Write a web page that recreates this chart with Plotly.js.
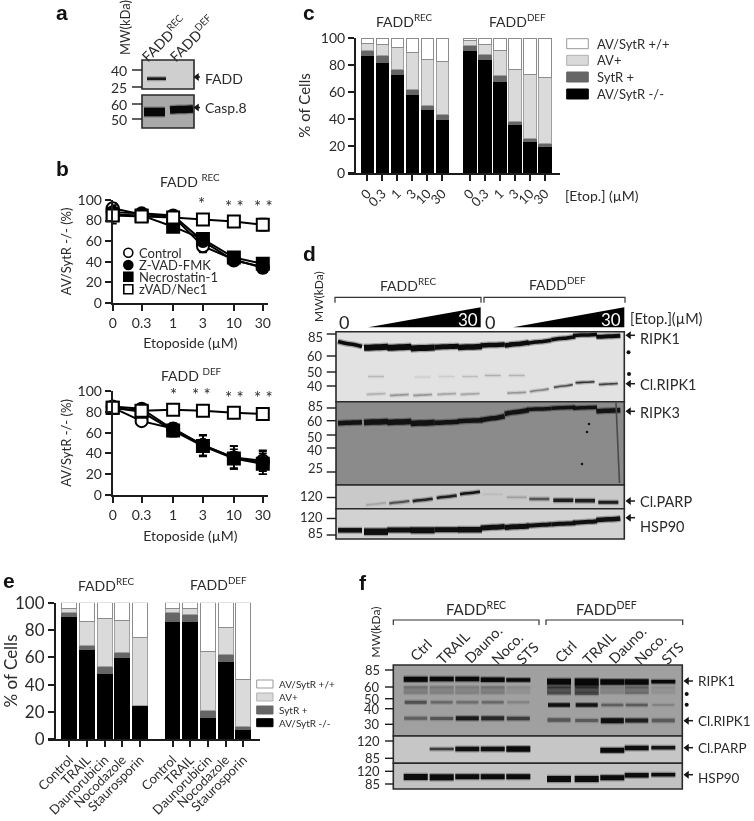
<!DOCTYPE html>
<html><head><meta charset="utf-8">
<script src="https://cdn.plot.ly/plotly-3.0.1.min.js"></script>
<style>html,body{margin:0;padding:0;background:#fff}#g{width:754px;height:821px;filter:blur(0.45px)}</style>
</head><body><div id="g"></div>
<script>
// ---------- panel b data ----------
const doses=['0','0.3','1','3','10','30'];
const dosePos=[0,1,2.09,3.12,4.19,5.19];
const bSeries=['Control','Z-VAD-FMK','Necrostatin-1','zVAD/Nec1'];
const recControl=[92,86,84,55,42,34], recControlErr=[5,3,2,6,3,5];
const recZvad=[88,87,85,60,41,35], recZvadErr=[3,3,2,3,3,4];
const recNec=[86,85,74,62,44,38], recNecErr=[9,3,3,4,3,4];
const recBoth=[85,84,83,81,79,76], recBothErr=[4,3,3,3,3,6];
const defControl=[84,71,64,48,36,33], defControlErr=[3,4,5,10,11,10];
const defZvad=[85,83,63,48,36,31], defZvadErr=[2,3,5,10,11,11];
const defNec=[84,80,62,47,35,30], defNecErr=[3,3,6,10,9,10];
const defBoth=[84,81,82,81,79,78], defBothErr=[3,3,2,3,2,2];
// ---------- panel c data ----------
const stackNames=['AV/SytR -/-','SytR +','AV+','AV/SytR +/+'];
const cLabels=['0','0.3','1','3','10','30','0','0.3','1','3','10','30'];
const cPos=[0,1,2,3,4,5,6.84,7.84,8.84,9.84,10.84,11.84];
const cNeg=[87,82,73,58,47,40, 91,84,68,36,23,20];
const cSyt=[4,5,4,4,3,3, 3.5,4,4.5,2.5,2.5,2];
const cAv=[5,8,16,27,34,39.5, 3.5,7.5,18.5,38.5,47.5,49];
const cBoth=[4,5,7,11,16,17.5, 2,4.5,9,23,27,29];
// ---------- panel e data ----------
const eLabels=['Control','TRAIL','Daunorubicin','Nocodazole','Staurosporin','Control','TRAIL','Daunorubicin','Nocodazole','Staurosporin'];
const ePos=[0,1,2,3,4,5.83,6.83,7.83,8.83,9.83];
const eNeg=[90,66,48,60,24.5, 86,86,16,57,7];
const eSyt=[3,3,5,3.5,0.5, 7,5,5,5,2.5];
const eAv=[3,17,35.5,23.5,49.5, 3,5,43,20,34];
const eBoth=[4,14,11.5,13,25.5, 4,4,36,18,56.5];
// ---------- blots: lane centres, migration, band weight, grey ----------
const dLanes=[350,376,399.3,422.7,446.7,470,492.7,516.7,539.3,563.3,585,608.3];
const dRipk1Y=[344,347.3,347.3,348,346.7,347,345,344,341.7,338.3,335,336.3];
const dRipk1W=[3.5,6,6,6,5,5.5,4.5,4.5,3.5,3.5,3.5,4];
const dClRipk1Y=[null,394,395,395,394,394,null,392.7,390.3,386,382.3,384];
const dClRipk1G=[0,178,150,150,165,165,0,150,130,80,50,65];
const dFaintY=[null,376.5,null,377,376.5,376.5,375.5,375.5,null,null,null,null];
const dFaintG=[0,185,0,205,205,190,175,180,0,0,0,0];
const dRipk3Y=[422.7,422,422,423,422.3,420.7,418.3,412,409,407.7,407.7,410.7];
const dRipk3W=[4.5,5.5,5.5,5.5,4.5,4.5,4.5,4.5,3.5,3.5,3.5,4.5];
const dParpY=[null,504,502.3,500,496.7,493,494.3,497.3,499,500.3,500.7,502.3];
const dParpG=[0,165,80,35,30,20,185,160,85,30,30,30];
const dParpW=[0,1.5,2,2.5,2.5,2.5,1,1.5,2.5,3.5,3.5,3];
const dHspY=[530.3,531.7,530,530.3,529.7,529.7,527.3,526.7,525,523.7,522,519.3];
const dHspW=[4.5,6.5,5,6,5,5.5,5,5,4,4,4,4.5];
const fLanes=[415.7,441.7,467.3,492.7,518.3,559,586.7,612.3,636.7,663.3];
const fRipk1Y=[679.3,679,679,679.7,680,681.7,682,682,682,681.7];
const fRipk1W=[5,4.5,4.5,4.5,3.5,6,7,5.5,5.5,3.5];
const fSmearG=[128,132,134,128,146,88,80,134,118,148];
const fSmearW=[8,8,8,8,7,9,10,7,8,7];
const fStreak1G=[110,118,122,112,138,50,40,122,90,140];
const fStreak2G=[125,128,130,125,145,70,60,130,105,145];
const fMidG=[80,105,110,105,130,15,20,95,90,130];
const fMidW=[3,2.5,2.5,2.5,2,3.5,3.5,2.5,2.5,2];
const fClY=[718.3,718.5,718.3,718.3,718.5,720,720.5,720.7,720.5,720.5];
const fClG=[95,85,25,40,60,85,90,15,30,90];
const fClW=[3,3,4,4,3.5,3.5,3,5,4,3.5];
const fParpY=[null,749,749,749,749,null,null,750.3,748,747.7];
const fParpG=[0,60,15,15,10,0,0,10,15,20];
const fParpW=[0,2.5,4.5,4.5,5.5,0,0,5,4.5,3.5];
const fHspY=[777,777.3,776.7,776.7,776.7,779,779,777.7,775.3,774.7];
const fHspW=[6,6,5,5,5,6,6,5,4.5,3.5];
// ---------- labels ----------
const recT='FADD<sup>REC</sup>', defT='FADD<sup>DEF</sup>';
const aMw=[['40',70],['25',87],['60',104],['50',119]];
const dMw=[['85',336.7,334],['60',356,356],['50',371.7,372],['40',385.7,386],['85',405.7,408],['60',420.7,420.7],['50',437,435],['40',450,448],['25',468,472],['120',496,497.5],['120',516.7,518.5],['85',532.7,535]];
const fMw=[['85',670,670],['60',687,687],['50',698.7,698.7],['40',708.7,708.7],['30',724.3,724.3],['120',741,742.7],['85',758.3,758.3],['120',771.3,768.7],['85',784,784]];
const fLaneLabels=['Ctrl','TRAIL','Dauno.','Noco.','STS','Ctrl','TRAIL','Dauno.','Noco.','STS'];
const fLabelX=[420,453,482.7,506.7,526.7,565.7,599,627.3,650,671.7];
const fLabelY=[650,647,644,648,653,651.7,647,644,648,653];

const W=754,H=821,INK='#1c1c1c',TXT='#2b2b2b',FONT='Lato, "Open Sans", sans-serif';
const domX=(a,b)=>[a/W,b/W], domY=(a,b)=>[1-b/H,1-a/H];
const traces=[],shapes=[],ann=[];
function T(text,x,y,o={}){ann.push(Object.assign({xref:'x5',yref:'y5',x,y,text,showarrow:false,xanchor:'center',yanchor:'middle',
  font:{family:FONT,size:o.size||14,color:o.color||TXT},textangle:o.angle||0},o.xanchor?{xanchor:o.xanchor}:{}));}
function rect(x0,y0,x1,y1,fill,line){shapes.push({type:'rect',xref:'x5',yref:'y5',x0,y0,x1,y1,fillcolor:fill,line:{color:line||'#2a2a2a',width:1.6},layer:'below'});}
function seg(x0,y0,x1,y1,c,w){shapes.push({type:'line',xref:'x5',yref:'y5',x0,y0,x1,y1,line:{color:c||INK,width:w||1.4}});}
function grey(g){return `rgb(${g},${g},${g})`;}
function band(xc,hw,y,w,g,tilt){
  if(y==null||!w) return;
  const t=tilt||0, col=grey(g);
  const xs=[xc-hw,xc-hw*0.3,xc+hw*0.3,xc+hw], ys=[y+t,y+t*0.2,y-t*0.2,y-t];
  traces.push({type:'scatter',mode:'lines',x:xs,y:ys,xaxis:'x5',yaxis:'y5',hoverinfo:'skip',showlegend:false,opacity:0.3,line:{color:col,width:w+2.5,shape:'spline'}});
  traces.push({type:'scatter',mode:'lines',x:xs,y:ys,xaxis:'x5',yaxis:'y5',hoverinfo:'skip',showlegend:false,line:{color:col,width:w,shape:'spline'}});
}
function bands(lanes,hw,ys,ws,gs,tilts){lanes.forEach((x,i)=>band(x,hw,ys[i],Array.isArray(ws)?ws[i]:ws,Array.isArray(gs)?gs[i]:gs,tilts?(Array.isArray(tilts)?tilts[i]:tilts):0));}
const arrowPts={x:[],y:[]};
function arrow(xTip,xEnd,y){seg(xTip,y,xEnd,y,INK,1.5);arrowPts.x.push(xTip+2);arrowPts.y.push(y);}
function dots(xs,ys,s){traces.push({type:'scatter',mode:'markers',x:xs,y:ys,xaxis:'x5',yaxis:'y5',hoverinfo:'skip',showlegend:false,marker:{color:'#111',size:s||4}});}
function bracket(x0,x1,y0,y1){shapes.push({type:'path',xref:'x5',yref:'y5',path:`M${x0},${y1} L${x0},${y0} L${x1},${y0} L${x1},${y1}`,line:{color:'#333',width:1.2}});}
function wedge(x0,x1,base,top){shapes.push({type:'path',xref:'x5',yref:'y5',path:`M${x0},${base} L${x1},${base} L${x1},${top} Z`,fillcolor:'#000',line:{color:'#000',width:0}});}

// ---------- stacked bars ----------
function stack(xa,ya,pos,series){
  const cols=['#000000','#666666','#dadada','#ffffff'], lines=['#000000','#666666','#a0a0a0','#8c8c8c'];
  series.forEach((v,i)=>traces.push({type:'bar',x:pos,y:v,name:stackNames[i],xaxis:xa,yaxis:ya,width:0.84,showlegend:false,
    marker:{color:cols[i],line:{color:lines[i],width:1}}}));
}
stack('x','y',cPos,[cNeg,cSyt,cAv,cBoth]);
stack('x2','y2',ePos,[eNeg,eSyt,eAv,eBoth]);

// ---------- dose curves ----------
const sym=[['circle','#fff'],['circle','#000'],['square','#000'],['square','#fff']];
function curves(xa,ya,sets){
  sets.forEach(([v])=>traces.push({type:'scatter',mode:'lines',x:dosePos,y:v,xaxis:xa,yaxis:ya,showlegend:false,hoverinfo:'skip',line:{color:'#000',width:2},cliponaxis:false}));
  sets.forEach(([v,e],i)=>traces.push({type:'scatter',mode:'markers',x:dosePos,y:v,xaxis:xa,yaxis:ya,name:bSeries[i],showlegend:false,cliponaxis:false,
    error_y:{type:'data',array:e,color:'#000',thickness:1.6,width:4},
    marker:{symbol:sym[i][0],color:sym[i][1],size:12,line:{color:'#000',width:2}}}));
}
curves('x3','y3',[[recControl,recControlErr],[recZvad,recZvadErr],[recNec,recNecErr],[recBoth,recBothErr]]);
curves('x4','y4',[[defControl,defControlErr],[defZvad,defZvadErr],[defNec,defNecErr],[defBoth,defBothErr]]);

// ---------- manual legends ----------
bSeries.forEach((n,i)=>{const y=[252.7,265,276.7,289.3][i];
  traces.push({type:'scatter',mode:'markers',x:[128.3],y:[y],xaxis:'x5',yaxis:'y5',showlegend:false,hoverinfo:'skip',marker:{symbol:sym[i][0],color:sym[i][1],size:9,line:{color:'#000',width:1.6}}});
  T(n,137.3,y,{xanchor:'left',size:13});});
const swatch=['#000000','#666666','#dadada','#ffffff'], swLine=['#000','#666','#b0b0b0','#999'];
stackNames.forEach((n,i)=>{
  let y=[94,77,60.3,43.7][i]; shapes.push({type:'rect',xref:'x5',yref:'y5',x0:566.7,x1:588.3,y0:y-5,y1:y+5,fillcolor:swatch[i],line:{color:swLine[i],width:1}});
  T(n,595,y,{xanchor:'left',size:13});
  y=[722.7,710,697,684][i]; shapes.push({type:'rect',xref:'x5',yref:'y5',x0:256.7,x1:273,y0:y-4,y1:y+4,fillcolor:swatch[i],line:{color:swLine[i],width:1}});
  T(n,276.7,y,{xanchor:'left',size:10});
});

// ---------- titles, stars ----------
T(recT,404,20);T(defT,517,20);T('[Etop.] (µM)',601.7,195);
T('FADD <sup>REC</sup>',190,180);T('FADD <sup>DEF</sup>',191,374);
[['*',201.7,203],['* *',234,206],['* *',263,206],['*',173,394],['* *',201.7,394],['* *',234,397],['* *',263,397]].forEach(s=>T(s[0],s[1],s[2],{size:17}));
T(recT,106,584);T(defT,218,583);
[['a',62,12],['b',62,168],['c',309,12],['d',309,253],['e',9,580],['f',363,582]].forEach(p=>ann.push({xref:'x5',yref:'y5',x:p[1],y:p[2],text:'<b>'+p[0]+'</b>',showarrow:false,font:{family:'Liberation Sans',size:21,color:'#111'}}));

// ---------- blot a ----------
rect(142,60,194,89,'#cfcfcf');rect(142,95,194,128,'#a9a9a9');
band(156.5,9.5,78.7,2.6,25);band(154.5,10.5,112,8.5,8,0);band(181.5,11.5,109.5,7.5,8,0.5);
aMw.forEach(m=>{seg(132,m[1],142,m[1]);T(m[0],129,m[1],{xanchor:'right',size:14});});
T('MW(kDa)',125,28,{angle:-90,size:13});
T(recT,163,38,{angle:-45,size:14});T(defT,191,38,{angle:-45,size:14});
arrow(195,200,77);arrow(195,200,107.5);T('FADD',203,78,{xanchor:'left',size:14});T('Casp.8',203,107,{xanchor:'left',size:14});

// ---------- blot d ----------
rect(336,331.7,624.3,401.7,'#e2e2e2');rect(336,401.7,624.3,485,'#8b8b8b');rect(336,485,624.3,508.7,'#c9c9c9');rect(336,508.7,624.3,539,'#d2d2d2');
bands(dLanes,12,dRipk1Y,dRipk1W,12,dRipk1Y.map((y,i)=>i==0?-2.5:(i>6&&i<10?1.5:0.5)));
bands(dLanes,9.5,dClRipk1Y,1.6,dClRipk1G,dClRipk1Y.map((y,i)=>i>7&&i<10?1.4:0.5));
bands(dLanes,8,dFaintY,1.2,dFaintG);
bands(dLanes,12,dRipk3Y,dRipk3W,18,dRipk3Y.map((y,i)=>i>5&&i<8?2:0.5));
bands(dLanes,10,dParpY,dParpW,dParpG,dParpY.map((y,i)=>i<6?1.2:0));
bands(dLanes,12,dHspY,dHspW,15,dHspY.map((y,i)=>i>5?0.8:0));
traces.push({type:'scatter',mode:'lines',x:[616,617,617.5,619,619.5],y:[403,425,445,465,483],xaxis:'x5',yaxis:'y5',hoverinfo:'skip',showlegend:false,line:{color:'#4a4a4a',width:1.6}});
dots([589,587,582],[424,432,464],2.5);
dMw.forEach(m=>{seg(326.7,m[2],336,m[2]);T(m[0],325,m[1],{xanchor:'right',size:13});});
T('MW(kDa)',318,297,{angle:-90,size:12});
bracket(335,481,297.3,302.7);bracket(484,625,297.3,302.7);
T(recT,408,284);T(defT,557,283);
wedge(368.3,480.7,327.3,307.3);wedge(513,624.3,327.3,307.3);
T('0',344,322,{size:18,color:'#222'});T('0',490,322,{size:18,color:'#222'});
T('30',468,319,{size:17,color:'#fff'});T('30',611,319,{size:17,color:'#fff'});
T('[Etop.](µM)',628,318,{xanchor:'left',size:14.5});
[['RIPK1',335.3,338],['Cl.RIPK1',383.7,384],['RIPK3',411.3,412],['Cl.PARP',501,501],['HSP90',517.7,526]].forEach(r=>{arrow(627,635,r[1]);T(r[0],638,r[2],{xanchor:'left',size:14.5});});
dots([628.5,629],[352.3,374]);

// ---------- blot f ----------
rect(393.3,665,682.3,736,'#a0a0a0');rect(393.3,736,682.3,763.3,'#c6c6c6');rect(393.3,763.3,682.3,789,'#c2c2c2');
bands(fLanes,12,fLanes.map(()=>690),fSmearW,fSmearG);
bands(fLanes,11.5,fLanes.map(()=>687.5),1.5,fStreak1G);
bands(fLanes,11.5,fLanes.map(()=>692.5),1.5,fStreak2G);
bands(fLanes,11,fLanes.map((x,i)=>i<5?702.3:705),fMidW,fMidG);
bands(fLanes,12,fRipk1Y,fRipk1W,8);
bands(fLanes,11.5,fClY,fClW,fClG);
bands(fLanes,12,fParpY,fParpW,fParpG);
bands(fLanes,12,fHspY,fHspW,12);
fMw.forEach(m=>{seg(385,m[1],393.3,m[1]);T(m[0],381.7,m[1],{xanchor:'right',size:13});});
T('MW(kDa)',375.7,631.7,{angle:-90,size:12});
bracket(393.3,539,620,625);bracket(546,682.7,620,625);
T(recT,476,608,{size:15});T(defT,606.7,608,{size:15});
fLaneLabels.forEach((n,i)=>T(n,fLabelX[i],fLabelY[i],{angle:-45,size:14.5}));
[['RIPK1',681,681],['Cl.RIPK1',720.7,720.7],['Cl.PARP',747.7,747.7],['HSP90',774.7,777.7]].forEach(r=>{arrow(685,693,r[1]);T(r[0],696,r[2],{xanchor:'left',size:13.5});});
dots([686.7,686.7],[694,704.7]);
traces.push({type:'scatter',mode:'markers',x:arrowPts.x,y:arrowPts.y,xaxis:'x5',yaxis:'y5',hoverinfo:'skip',showlegend:false,marker:{symbol:'triangle-left',color:'#111',size:7}});

// ---------- layout ----------
const axBase={showgrid:false,zeroline:false,showline:true,linecolor:INK,linewidth:2,ticks:'outside',ticklen:6,tickwidth:2,tickcolor:INK,fixedrange:true};
const tf=s=>({family:FONT,size:s,color:TXT});
const yT=(t,s,st)=>({text:t,font:tf(s),standoff:st});
const layout={width:W,height:H,margin:{l:0,r:0,t:0,b:0,pad:0},paper_bgcolor:'#fff',plot_bgcolor:'rgba(0,0,0,0)',barmode:'stack',showlegend:false,
 xaxis:Object.assign({},axBase,{domain:domX(348,560),range:[-1.29,12.84],tickmode:'array',tickvals:cPos,ticktext:cLabels,tickangle:-45,tickfont:tf(13),anchor:'y'}),
 yaxis:Object.assign({},axBase,{domain:domY(38,173),range:[0,100],tickvals:[0,20,40,60,80,100],tickfont:tf(14),anchor:'free',position:355/W,title:yT('% of Cells',15,6)}),
 xaxis2:Object.assign({},axBase,{domain:domX(48,260),range:[-1.2,10.77],tickmode:'array',tickvals:ePos,ticktext:eLabels,tickangle:-45,tickfont:tf(13),anchor:'y2'}),
 yaxis2:Object.assign({},axBase,{domain:domY(602.7,739.3),range:[0,100],tickvals:[0,20,40,60,80,100],tickfont:tf(17),anchor:'free',position:55/W,title:yT('% of Cells',17,3)}),
 xaxis3:Object.assign({},axBase,{domain:domX(112.7,268),range:[0,5.37],tickmode:'array',tickvals:dosePos,ticktext:doses,tickfont:tf(14),anchor:'y3',title:yT('Etoposide (µM)',14,9)}),
 yaxis3:Object.assign({},axBase,{domain:domY(200,302.7),range:[0,100],tickvals:[0,20,40,60,80,100],tickfont:tf(14),anchor:'x3',title:yT('AV/SytR -/- (%)',13,3)}),
 xaxis4:Object.assign({},axBase,{domain:domX(112.7,268),range:[0,5.37],tickmode:'array',tickvals:dosePos,ticktext:doses,tickfont:tf(14),anchor:'y4',title:yT('Etoposide (µM)',14,9)}),
 yaxis4:Object.assign({},axBase,{domain:domY(391,495),range:[0,100],tickvals:[0,20,40,60,80,100],tickfont:tf(14),anchor:'x4',title:yT('AV/SytR -/- (%)',13,3)}),
 xaxis5:{domain:[0,1],range:[0,W],visible:false,showticklabels:false,fixedrange:true,anchor:'y5'},
 yaxis5:{domain:[0,1],range:[H,0],visible:false,showticklabels:false,fixedrange:true,anchor:'x5'},
 shapes,annotations:ann};
Plotly.newPlot('g',traces,layout,{staticPlot:true,displayModeBar:false});
</script></body></html>
